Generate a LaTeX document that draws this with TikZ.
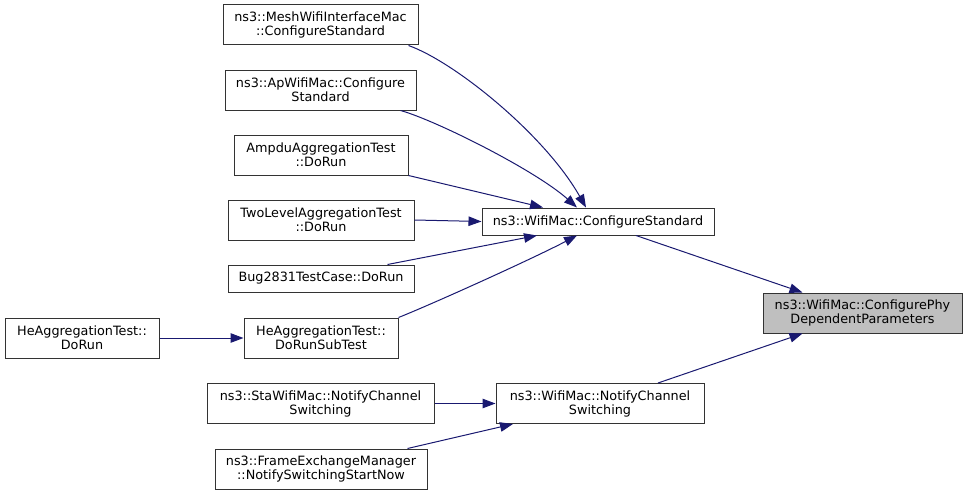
\documentclass[tikz,border=0pt]{standalone}
\usepackage{fontspec}
\setmainfont{DejaVu Sans}
\usetikzlibrary{arrows.meta}
\definecolor{edgecol}{HTML}{191970}
\definecolor{boxline}{HTML}{333333}
\definecolor{hilite}{HTML}{BFBFBF}
\begin{document}
\begin{tikzpicture}[x=1pt,y=-1pt,
  box/.style={draw=boxline, line width=1pt, fill=white, inner sep=0pt, align=center,
    font=\fontsize{12.8}{14}\selectfont, text=black},
  call/.style={draw=edgecol, line width=1pt, -{Triangle[length=13pt,width=9.5pt]}}]
\useasboundingbox (0,0) rectangle (968,495);
\node[box, minimum width=195pt, minimum height=40pt] (mesh) at (320.5,25) {ns3::MeshWifiInterfaceMac\\::ConfigureStandard};
\node[box, minimum width=191pt, minimum height=40pt] (ap) at (320.5,90) {ns3::ApWifiMac::Configure\\Standard};
\node[box, minimum width=174pt, minimum height=40pt] (ampdu) at (321,155) {AmpduAggregationTest\\::DoRun};
\node[box, minimum width=186pt, minimum height=40pt] (two) at (321,220) {TwoLevelAggregationTest\\::DoRun};
\node[box, minimum width=186pt, minimum height=27pt] (bug) at (321,278.5) {Bug2831TestCase::DoRun};
\node[box, minimum width=154pt, minimum height=40pt] (hesub) at (321,338) {HeAggregationTest::\\DoRunSubTest};
\node[box, minimum width=154pt, minimum height=40pt] (herun) at (82,338) {HeAggregationTest::\\DoRun};
\node[box, minimum width=227pt, minimum height=40pt] (sta) at (320.5,403.5) {ns3::StaWifiMac::NotifyChannel\\Switching};
\node[box, minimum width=212pt, minimum height=40pt] (fem) at (321,469) {ns3::FrameExchangeManager\\::NotifySwitchingStartNow};
\node[box, minimum width=232pt, minimum height=27pt] (cs) at (598,221.5) {ns3::WifiMac::ConfigureStandard};
\node[box, fill=hilite, minimum width=199pt, minimum height=40pt] (tgt) at (862.5,313) {ns3::WifiMac::ConfigurePhy\\DependentParameters};
\node[box, minimum width=208pt, minimum height=40pt] (nc) at (600,403.5) {ns3::WifiMac::NotifyChannel\\Switching};

\draw[call] ([xshift=-10pt]mesh.south east) .. controls (455,62) and (545,135) .. ([xshift=-12pt]cs.north);
\draw[call] ([xshift=-16pt]ap.south east) .. controls (435,120) and (535,170) .. ([xshift=-21pt]cs.north);
\draw[call] (ampdu.south east) -- ([xshift=-55pt]cs.north);
\draw[call] (two.east) -- (cs.west);
\draw[call] ([xshift=-27pt]bug.north east) -- ([xshift=-61pt]cs.south);
\draw[call] (hesub.north east) .. controls (430,305) and (530,260) .. ([xshift=-21pt]cs.south);
\draw[call] ([xshift=38pt]cs.south) -- ([xshift=-60pt]tgt.north);
\draw[call] ([xshift=58pt]nc.north) -- ([xshift=-60pt]tgt.south);
\draw[call] (herun.east) -- (hesub.west);
\draw[call] (sta.east) -- (nc.west);
\draw[call] ([xshift=-20pt]fem.north east) -- ([xshift=-87pt]nc.south);
\end{tikzpicture}
\end{document}
